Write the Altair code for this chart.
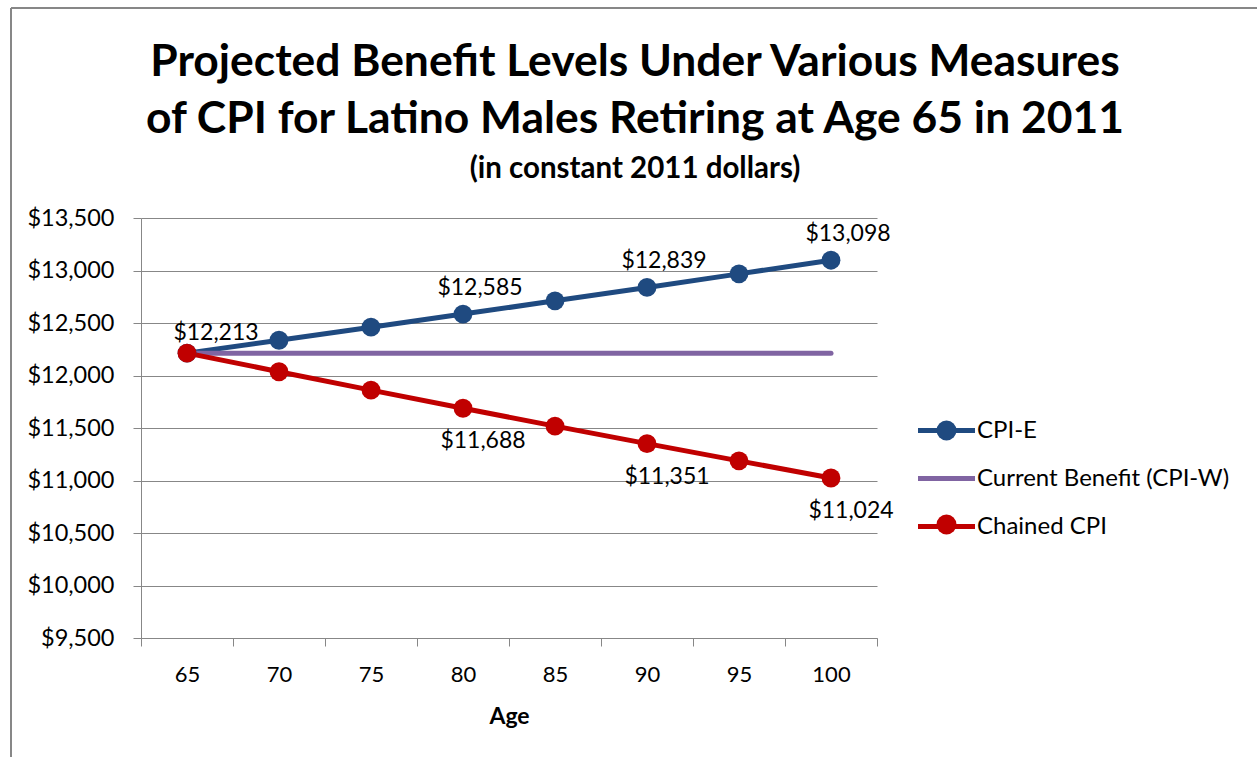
import altair as alt
import pandas as pd

# Benefit levels by age (constant 2011 dollars)
ages = [65, 70, 75, 80, 85, 90, 95, 100]
cpi_e = [12213, 12336, 12460, 12585, 12711, 12839, 12968, 13098]
current_benefit = [12213, 12213, 12213, 12213, 12213, 12213, 12213, 12213]
chained_cpi = [12213, 12036, 11861, 11688, 11518, 11351, 11187, 11024]

series_names = ["CPI-E", "Current Benefit (CPI-W)", "Chained CPI"]
series_colors = ["#1F4A80", "#8064A2", "#C00000"]
point_colors = ["#1F4A80", "transparent", "#C00000"]

# ages that carry a value label
first_label_age = [65]
cpi_e_label_ages = [80, 90, 100]
chained_label_ages = [80, 90, 100]

y_ticks = [9500, 10000, 10500, 11000, 11500, 12000, 12500, 13000, 13500]

rows = []
for name, vals in zip(series_names, [cpi_e, current_benefit, chained_cpi]):
    for a, v in zip(ages, vals):
        rows.append({"age": a, "series": name, "value": v})
df = pd.DataFrame(rows)

FONT = "Lato"
GRAY = "#878787"


def label_filter(series, label_ages):
    return f"datum.series == '{series}' && indexof({list(label_ages)}, datum.age) >= 0"


x_enc = alt.X(
    "age:O",
    scale=alt.Scale(type="band", paddingInner=0, paddingOuter=0),
    axis=alt.Axis(
        title="Age", labelAngle=0, tickBand="extent", grid=False,
        labelFontSize=22, labelPadding=18, tickSize=8,
        titleFontSize=23, titleFontWeight="bold", titlePadding=20,
    ),
)
y_enc = alt.Y(
    "value:Q",
    scale=alt.Scale(domain=[9500, 13500], nice=False, zero=False),
    axis=alt.Axis(
        title=None, values=y_ticks, format="$,.0f", grid=True,
        labelFontSize=23.5, labelPadding=19, tickSize=8,
    ),
)

base = alt.Chart(df)

lines = base.mark_line(strokeWidth=5, strokeCap="round", strokeJoin="round").encode(
    x=x_enc,
    y=y_enc,
    color=alt.Color(
        "series:N",
        sort=series_names,
        scale=alt.Scale(domain=series_names, range=series_colors),
        legend=alt.Legend(
            title=None, orient="none", legendX=793, legendY=200,
            symbolType="M-2.85,0H2.85", symbolSize=400, symbolStrokeWidth=5,
            labelFontSize=24, labelFont=FONT, labelOffset=18, rowPadding=23,
            labelLimit=400,
        ),
    ),
)

points = base.transform_filter(
    "datum.series != 'Current Benefit (CPI-W)'"
).transform_calculate(series2="datum.series").mark_circle(size=355, opacity=1).encode(
    x=x_enc,
    y=y_enc,
    fill=alt.Fill(
        "series2:N",
        sort=series_names,
        scale=alt.Scale(domain=series_names, range=point_colors),
        legend=alt.Legend(
            title=None, orient="none", legendX=793, legendY=200,
            symbolType="circle", symbolSize=400, symbolStrokeWidth=5,
            symbolStrokeColor="transparent", symbolOpacity=1,
            labelFontSize=24, labelFont=FONT, labelOffset=18, rowPadding=6,
            labelOpacity=0, labelLimit=400,
        ),
    ),
)

text_style = dict(fontSize=23, font=FONT, color="black")

label_first = base.transform_filter(label_filter("CPI-E", first_label_age)).mark_text(
    dx=29, dy=-20, **text_style
).encode(x=x_enc, y=y_enc, text=alt.Text("value:Q", format="$,.0f"))

label_above = base.transform_filter(label_filter("CPI-E", cpi_e_label_ages)).mark_text(
    dx=17, dy=-26, **text_style
).encode(x=x_enc, y=y_enc, text=alt.Text("value:Q", format="$,.0f"))

label_below = base.transform_filter(label_filter("Chained CPI", chained_label_ages)).mark_text(
    dx=20, dy=33, **text_style
).encode(x=x_enc, y=y_enc, text=alt.Text("value:Q", format="$,.0f"))

# outer chart frame (left and top edges)
frame_left = alt.Chart(pd.DataFrame({"k": [0]})).mark_rule(color=GRAY, strokeWidth=2).encode(
    x=alt.value(-130), y=alt.value(-210), y2=alt.value(545)
)
frame_top = alt.Chart(pd.DataFrame({"k": [0]})).mark_rule(color=GRAY, strokeWidth=2).encode(
    x=alt.value(-130), x2=alt.value(1120), y=alt.value(-210)
)

chart = alt.layer(
    frame_left, frame_top, lines, points, label_first, label_above, label_below
).resolve_legend(color="independent", fill="independent").properties(
    width=736,
    height=420,
    autosize=alt.AutoSizeParams(type="none"),
    padding={"left": 141, "top": 218, "right": 380, "bottom": 119},
    background="white",
    title=alt.TitleParams(
        text=["Projected Benefit Levels Under Various Measures",
              "of CPI for Latino Males Retiring at Age 65 in 2011"],
        subtitle="(in constant 2011 dollars)",
        font=FONT, fontSize=44.4, fontWeight="bold", lineHeight=57, color="black",
        subtitleFont=FONT, subtitleFontSize=29.5, subtitleFontWeight="bold",
        subtitleColor="black", subtitlePadding=12,
        anchor="middle", dx=126, offset=-177,
    ),
).configure_view(stroke=None).configure_axis(
    domainColor=GRAY, tickColor=GRAY, gridColor=GRAY,
    labelFont=FONT, titleFont=FONT, labelColor="black", titleColor="black",
)

chart.save("out.html", embed_options={"renderer": "svg", "actions": False})
